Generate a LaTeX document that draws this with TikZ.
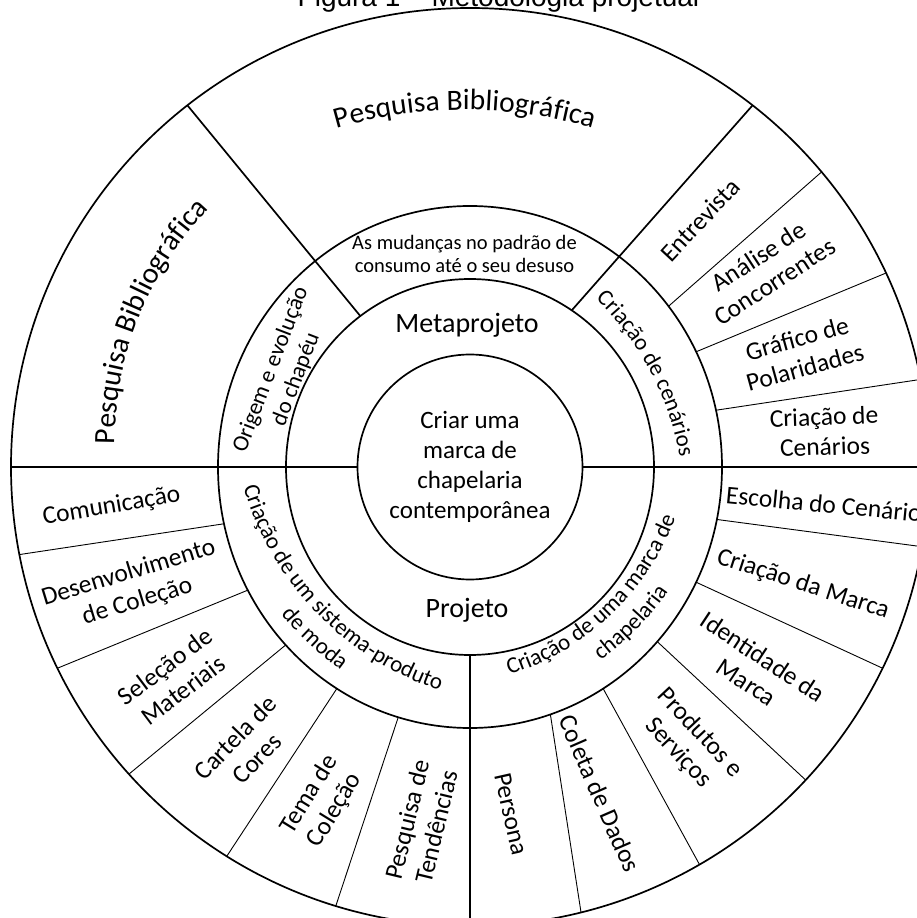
\documentclass[tikz,border=0pt]{standalone}
\usepackage{fontspec}
\setmainfont{Carlito}
\newfontfamily\titlefam{Liberation Sans}
\usetikzlibrary{decorations.text,shapes.geometric}
\newcommand\outfont{\fontsize{25.5}{30}\selectfont}
\newcommand\ringfont{\fontsize{23}{27}\selectfont}
\newcommand\bigfont{\fontsize{29.5}{34}\selectfont}
\newcommand\midfont{\fontsize{28}{32}\selectfont}
\newcommand\corefont{\fontsize{25}{30}\selectfont}
\newcommand\smallringfont{\fontsize{20.5}{22.7}\selectfont}
\tikzset{
  ringline/.style={line width=1.7pt},
  barline/.style={line width=2.6pt},
  subline/.style={line width=0.9pt},
  outtxt/.style={font=\outfont, align=center, inner sep=0pt},
  ringtxt/.style={font=\ringfont, align=center, inner sep=0pt},
  arctext/.style={decorate, decoration={text along path, text={#1}, text align=center}},
}
\begin{document}
\begin{tikzpicture}[x=1pt,y=1pt]
\useasboundingbox (-470,-451) rectangle (447,467);
\clip (-470,-451) rectangle (447,467);
\fill[white] (-470,-451) rectangle (447,467);

% rings
\node[draw, ringline, circle, minimum size=918pt, inner sep=0pt, outer sep=0pt] (outer) at (0,0) {};
\node[draw, ringline, ellipse, minimum width=504pt, minimum height=522pt, inner sep=0pt, outer sep=0pt] (ringb) at (0,0) {};
\node[draw, ringline, ellipse, minimum width=368pt, minimum height=376pt, inner sep=0pt, outer sep=0pt] (ringa) at (0,0) {};
\node[draw, ringline, circle, minimum size=225pt, inner sep=0pt, outer sep=0pt, font=\corefont, align=center] (core) at (0,0) {Criar uma\\marca de\\chapelaria\\contemporânea};

% main bars
\draw[barline] (core.west) -- (outer.west);
\draw[barline] (core.east) -- (outer.east);
\draw[ringline] (ringa.south) -- (outer.south);
\draw[ringline] (ringa.126) -- (outer.128.6);
\draw[ringline] (ringa.57.3) -- (outer.52.8);

% subdivisions of the outer ring
\foreach \a/\b in {39.8/40.8, 27.7/25.8, 13.8/11.9, -12.6/-10.7, -27.5/-26.6,
  -43.6/-43.1, -59.4/-60.1, -72.7/-76.4, 254.1/253.7, 239.6/238, 224.4/222.3,
  209/206.1, 193.4/191.3}
  \draw[subline] (ringb.\a) -- (outer.\b);

% title
\node[anchor=base, font=\titlefam\fontsize{28}{32}\selectfont, inner sep=0pt] (title) at (28.5,460) {Figura 1 – Metodologia projetual};

% curved labels
\path[arctext={|\bigfont|Pesquisa Bibliográfica}] (-5,-103) ++(110:460) arc[start angle=110, end angle=70, radius=460];
\path[arctext={|\bigfont|Pesquisa Bibliográfica}] (-14,23.5) ++(188.3:341) arc[start angle=188.3, end angle=128.3, radius=341];
\path[arctext={|\ringfont|Criação de cenários}] (-79.5,-42.3) ++(60:294) arc[start angle=60, end angle=-4, radius=294];
\path[arctext={|\ringfont|Criação de um sistema-produto}] (63.6,63.6) ++(184:302) arc[start angle=184, end angle=264, radius=302];
\path[arctext={|\ringfont|de moda}] (63.6,63.6) ++(187:329) arc[start angle=187, end angle=267, radius=329];
\path[arctext={|\ringfont|Criação de uma marca de}] (-36.6,38.8) ++(273.4:258) arc[start angle=273.4, end angle=353.4, radius=258];
\path[arctext={|\ringfont|chapelaria}] (-36.6,38.8) ++(275.5:286) arc[start angle=275.5, end angle=355.5, radius=286];

% ring labels
\node[ringtxt, rotate=69] (origem) at (-186.5,92.5) {Origem e evolução\\do chapéu};
\node[font=\smallringfont, align=center, inner sep=0pt] (mudancas) at (-5.5,213) {As mudanças no padrão de\\consumo até o seu desuso};
\node[font=\midfont, inner sep=0pt] (meta) at (-3,142) {Metaprojeto};
\node[font=\midfont, inner sep=0pt] (proj) at (-3,-143) {Projeto};

% outer ring labels
\node[outtxt, rotate=47] (entrevista) at (230,247) {Entrevista};
\node[outtxt, rotate=33] (analise) at (296.5,198) {Análise de\\Concorrentes};
\node[outtxt, rotate=15.4] (grafico) at (331,114) {Gráfico de\\Polaridades};
\node[outtxt, rotate=2] (cenarios) at (354.5,35.5) {Criação de\\Cenários};
\node[outtxt, rotate=-5.5] (escolha) at (354,-37) {Escolha do Cenário};
\node[outtxt, rotate=-18] (criamarca) at (333,-117.5) {Criação da Marca};
\node[outtxt, rotate=-33.5] (identidade) at (285,-202.5) {Identidade da\\Marca};
\node[outtxt, rotate=-47] (produtos) at (219,-276) {Produtos e\\Serviços};
\node[outtxt, rotate=-66.5] (coleta) at (130,-326.5) {Coleta de Dados};
\node[outtxt, rotate=-77.3] (persona) at (41,-347) {Persona};
\node[outtxt, rotate=76.5] (tendencias) at (-48.5,-356) {Pesquisa de\\Tendências};
\node[outtxt, rotate=58.3] (tema) at (-148,-335.5) {Tema de\\Coleção};
\node[outtxt, rotate=46] (cartela) at (-224,-281) {Cartela de\\Cores};
\node[outtxt, rotate=37] (selecao) at (-296,-211) {Seleção de\\Materiais};
\node[outtxt, rotate=17] (desenv) at (-337,-120.5) {Desenvolvimento\\de Coleção};
\node[outtxt, rotate=9.5] (comunic) at (-358.5,-39.5) {Comunicação};
\end{tikzpicture}
\end{document}
